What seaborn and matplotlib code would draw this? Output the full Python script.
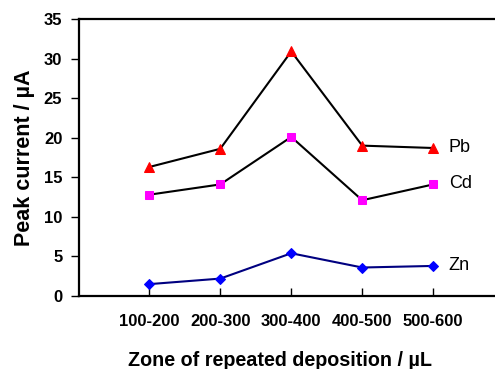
import numpy as np
import pandas as pd
import seaborn as sns
import matplotlib.pyplot as plt

# data
zones = ['100-200', '200-300', '300-400', '400-500', '500-600']
pb = [16.3, 18.6, 30.9, 19.0, 18.7]
cd = [12.8, 14.1, 20.1, 12.1, 14.1]
zn = [1.5, 2.2, 5.4, 3.6, 3.8]

sns.set_style('ticks')
plt.rcParams['font.family'] = ['Liberation Sans', 'DejaVu Sans']
plt.rcParams['text.color'] = 'black'
plt.rcParams['axes.labelcolor'] = 'black'

fig = plt.figure(figsize=(4.95, 3.69), dpi=100)
ax = fig.add_axes([79 / 495, 1 - 296 / 369, 1 - 79 / 495, (296 - 19) / 369])

pos = np.arange(len(zones))
df = pd.DataFrame({'pos': pos, 'Pb': pb, 'Cd': cd, 'Zn': zn})

series = [
    ('Pb', '^', 'red', 'black', 7),
    ('Cd', 's', 'magenta', 'black', 6),
    ('Zn', 'D', 'blue', '#000080', 5),
]
for name, mk, mcol, lcol, ms in series:
    sns.lineplot(data=df, x='pos', y=name, ax=ax, color=lcol, lw=1.5,
                 marker=mk, markersize=ms, markerfacecolor=mcol,
                 markeredgecolor=mcol, zorder=3)
    ax.text(4.22, df[name].iloc[-1] + 0.1, name, fontsize=13,
            va='center', ha='left')

ax.set_xlim(-0.99, 4.87)
ax.set_ylim(0, 35)
ax.set_yticks(range(0, 36, 5))
ax.set_xticks(pos)
ax.set_xticklabels(zones)

for lab in ax.get_xticklabels() + ax.get_yticklabels():
    lab.set_fontweight('bold')
    lab.set_fontsize(12)
    lab.set_color('black')

ax.tick_params(axis='x', direction='in', length=6, width=1, pad=13, colors='black')
ax.tick_params(axis='y', direction='out', length=6, width=1, pad=6, colors='black')

ax.set_xlabel('Zone of repeated deposition / µL', fontsize=14.2, fontweight='bold', labelpad=16)
ax.xaxis.label.set_x(0.483)
ax.set_ylabel('Peak current / µA', fontsize=15.5, fontweight='bold', labelpad=6)

for s in ['left', 'bottom', 'top']:
    ax.spines[s].set_linewidth(1.6)
    ax.spines[s].set_color('black')
ax.spines['right'].set_visible(False)

fig.savefig('out.png', dpi=100)
